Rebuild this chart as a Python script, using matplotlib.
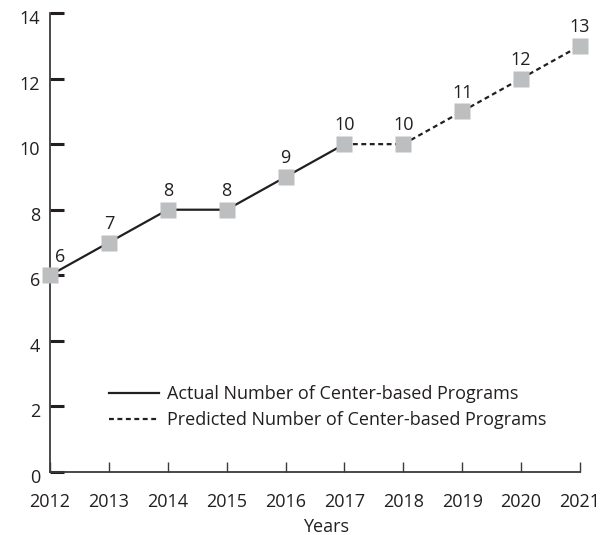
import matplotlib
matplotlib.use("Agg")
import matplotlib.pyplot as plt
import matplotlib.transforms as mtransforms

# data
years = [2012, 2013, 2014, 2015, 2016, 2017, 2018, 2019, 2020, 2021]
programs = [6, 7, 8, 8, 9, 10, 10, 11, 12, 13]
actual_years = years[:6]
actual_vals = programs[:6]
pred_years = years[5:]
pred_vals = programs[5:]
y_ticks = [0, 2, 4, 6, 8, 10, 12, 14]

plt.rcParams['font.family'] = ['Open Sans', 'DejaVu Sans']
text_color = '#231f20'
marker_color = '#bcbec0'
fs = 13

fig = plt.figure(figsize=(6.06, 5.35), dpi=100)
ax = fig.add_axes([50/606, 1 - 472/535, 530/606, 459/535])

ax.plot(actual_years, actual_vals, color=text_color, lw=1.6,
        label='Actual Number of Center-based Programs', zorder=2)
ax.plot(pred_years, pred_vals, color=text_color, lw=1.6, ls=(0, (2.2, 1.6)),
        label='Predicted Number of Center-based Programs', zorder=2)
ax.plot(years, programs, ls='none', marker='s', ms=11, mfc=marker_color,
        mec='none', clip_on=False, zorder=3)

for i, (x, v) in enumerate(zip(years, programs)):
    # first label is pushed right, off the y axis
    dx = 7 if i == 0 else 0
    ax.annotate(str(v), (x, v), xytext=(dx, 7), textcoords='offset points',
                ha='center', va='bottom', fontsize=fs, color=text_color,
                annotation_clip=False)

ax.set_xlim(2012, 2021)
ax.set_ylim(0, 14)
ax.set_xticks(years)
ax.set_yticks(y_ticks)

for s in ['top', 'right']:
    ax.spines[s].set_visible(False)
for s in ['left', 'bottom']:
    ax.spines[s].set_color('#3a3a3a')
    ax.spines[s].set_linewidth(1.3)

ax.tick_params(axis='y', direction='in', length=10, width=2.2, color=text_color,
               labelsize=fs, labelcolor=text_color, pad=7)
ax.tick_params(axis='x', direction='in', length=7, width=1, color='#3a3a3a',
               labelsize=fs, labelcolor=text_color, pad=15)

# y labels in the original sit a few pixels below their ticks
offset = mtransforms.ScaledTranslation(0, -4/100, fig.dpi_scale_trans)
for lab in ax.get_yticklabels():
    lab.set_transform(lab.get_transform() + offset)

ax.set_xlabel('Years', fontsize=fs, color=text_color)
ax.xaxis.set_label_coords(0.52, -0.1)

ax.legend(loc='lower left', bbox_to_anchor=(0.097, 0.078), frameon=False,
          fontsize=fs, handlelength=2.8, handletextpad=0.45, labelspacing=0.42,
          labelcolor=text_color, borderaxespad=0)

fig.savefig('out.png', dpi=100)
